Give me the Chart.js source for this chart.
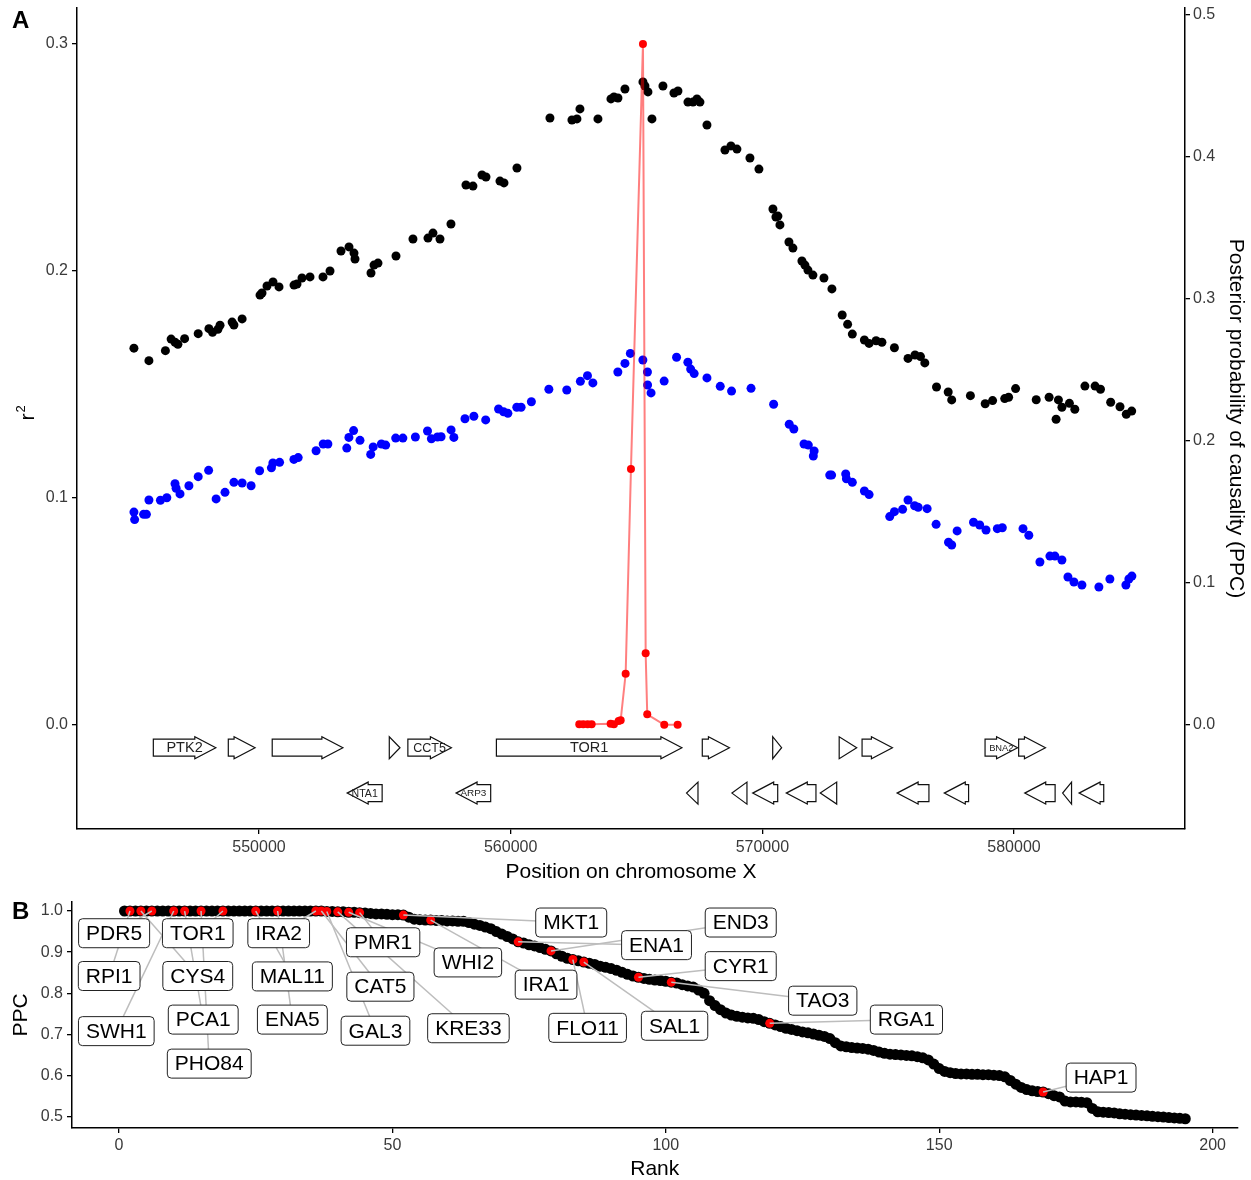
<!DOCTYPE html>
<html lang="en">
<head>
<meta charset="UTF-8">
<title>TOR1 locus</title>
<script src="https://cdn.jsdelivr.net/npm/chart.js@4.4.1/dist/chart.umd.min.js"></script>
<style>
  body { margin: 0; background: #fff; }
  #wrapA { position: absolute; left: 0; top: 0; }
  #wrapB { position: absolute; left: 0; top: 890px; }
</style>
</head>
<body>
<div id="wrapA"><canvas id="chartA" width="1251" height="890"></canvas></div>
<div id="wrapB"><canvas id="chartB" width="1251" height="290"></canvas></div>
<script>
// ---------- panel A data ----------
const blackPos = [545030, 545626, 546281, 546508, 546663, 546778, 547044, 547584, 548010, 548153, 548367, 548451, 548931, 549003, 549329,
  550040, 550119, 550318, 550556, 550795, 551391, 551510, 551708, 552026, 552543, 552821, 553258, 553576, 553774, 553814, 554450, 554569, 554728, 555443, 556118,
  556714, 556913, 557191, 557628, 558224, 558502, 558860, 559019, 559575, 559734, 560250, 561561, 562435, 562634, 562753, 563468, 563985, 564104, 564263, 564541,
  565256, 565336, 565455, 565614, 566051, 566488, 566647, 567044, 567243, 567402, 567521, 567800, 568515, 568753, 568991, 569508, 569865, 570421, 570540, 570620,
  570699, 571057, 571216, 571573, 571693, 571812, 572011, 572448, 572765,
  573174, 573389, 573576, 574056, 574243, 574521, 574752, 575248, 575789, 576067, 576285, 576456, 576921, 577386, 577525, 578268, 578856, 579150, 579631, 579786,
  580064, 580883, 581395, 581673, 581765, 581904, 582202, 582417, 582818, 583222, 583437, 583842, 584212, 584462, 584677];
const blackR2 = [0.1660, 0.1605, 0.1649, 0.1700, 0.1686, 0.1677, 0.1702, 0.1724, 0.1746, 0.1730, 0.1743, 0.1761, 0.1775, 0.1762, 0.1789,
  0.1894, 0.1903, 0.1934, 0.1952, 0.1930, 0.1938, 0.1943, 0.1969, 0.1974, 0.1974, 0.2000, 0.2088, 0.2106, 0.2079, 0.2053, 0.1991, 0.2026, 0.2035, 0.2066, 0.2141,
  0.2145, 0.2167, 0.2141, 0.2207, 0.2379, 0.2374, 0.2423, 0.2414, 0.2396, 0.2388, 0.2454, 0.2674, 0.2665, 0.2670, 0.2714, 0.2670, 0.2758, 0.2767, 0.2762, 0.2802,
  0.2833, 0.2815, 0.2789, 0.2670, 0.2815, 0.2784, 0.2793, 0.2744, 0.2744, 0.2758, 0.2744, 0.2643, 0.2533, 0.2551, 0.2537, 0.2498, 0.2449, 0.2273, 0.2238, 0.2242,
  0.2203, 0.2128, 0.2101, 0.2044, 0.2026, 0.2004, 0.1982, 0.1969, 0.1921,
  0.1806, 0.1765, 0.1722, 0.1696, 0.1681, 0.1693, 0.1686, 0.1662, 0.1615, 0.1630, 0.1623, 0.1595, 0.1489, 0.1467, 0.1432, 0.1451, 0.1415, 0.1429, 0.1438, 0.1444,
  0.1482, 0.1433, 0.1444, 0.1347, 0.1432, 0.1400, 0.1417, 0.1391, 0.1493, 0.1493, 0.1479, 0.1422, 0.1402, 0.1369, 0.1383];

const bluePos = [545030, 545058, 545415, 545526, 545626, 546083, 546337, 546663, 546706, 546861, 547215, 547584, 547998, 548296, 548649, 549003, 549329, 549686,
  550024, 550493, 550552, 550818, 551387, 551557, 552268, 552551, 552737, 553488, 553572, 553759, 554013, 554438, 554537, 554863, 555034, 555431, 555717,
  556214, 556695, 556850, 557092, 557235, 557632, 557743, 558184, 558538, 559007, 559519, 559718, 559889, 560243, 560414, 560823, 561518, 562229, 562770,
  563052, 563266, 564259, 564541, 564756, 565253, 565435, 565440, 565578,
  566099, 566592, 567041, 567152, 567291, 567800, 568328, 568777, 569551, 570449, 571069, 571252, 571657, 571828, 572026, 572058, 572678, 572753, 573313,
  573341, 573576, 574056, 574243, 575062, 575248, 575574, 575789, 576051, 576194, 576548, 576905, 577398, 577525, 577740, 578391, 578637, 578888, 579337,
  579536, 580358, 580589, 581030, 581427, 581626, 581904, 582143, 582381, 582699, 583374, 583811, 584447, 584566, 584685];
const blueR2 = [0.0938, 0.0905, 0.0928, 0.0928, 0.0991, 0.0990, 0.1001, 0.1063, 0.1043, 0.1018, 0.1054, 0.1094, 0.1122, 0.0996, 0.1025, 0.1069, 0.1066, 0.1054,
  0.1120, 0.1133, 0.1154, 0.1157, 0.1170, 0.1178, 0.1208, 0.1238, 0.1238, 0.1220, 0.1267, 0.1297, 0.1254, 0.1192, 0.1225, 0.1238, 0.1233, 0.1264, 0.1264,
  0.1269, 0.1295, 0.1261, 0.1269, 0.1270, 0.1300, 0.1267, 0.1349, 0.1360, 0.1344, 0.1392, 0.1380, 0.1373, 0.1400, 0.1400, 0.1424, 0.1479, 0.1476, 0.1514,
  0.1539, 0.1507, 0.1555, 0.1593, 0.1637, 0.1608, 0.1555, 0.1498, 0.1463,
  0.1515, 0.1620, 0.1598, 0.1568, 0.1548, 0.1529, 0.1492, 0.1471, 0.1483, 0.1413, 0.1325, 0.1304, 0.1238, 0.1233, 0.1185, 0.1207, 0.1101, 0.1101, 0.1106,
  0.1085, 0.1069, 0.1031, 0.1015, 0.0918, 0.0940, 0.0950, 0.0991, 0.0966, 0.0959, 0.0953, 0.0884, 0.0805, 0.0793, 0.0855, 0.0893, 0.0881, 0.0859, 0.0865,
  0.0869, 0.0865, 0.0836, 0.0718, 0.0744, 0.0744, 0.0727, 0.0652, 0.0630, 0.0617, 0.0608, 0.0643, 0.0617, 0.0643, 0.0656];

const ppcPos = [562726, 562885, 563059, 563218, 563973, 564104, 564291, 564371, 564569, 564780, 565257, 565364, 565427, 566103, 566635];
const ppcVal = [0.0005, 0.0005, 0.0005, 0.0005, 0.0009, 0.0005, 0.0028, 0.0033, 0.0361, 0.1803, 0.4796, 0.0505, 0.0075, 0.0001, 0.0001];

// genes: left/right coordinate, strand, label
const geneName   = ['PTK2', '', '', '', 'CCT5', 'TOR1', '', '', '', '', 'BNA2', '',
                    'NTA1', 'ARP3', '', '', '', '', '', '', '', '', '', ''];
const geneLeft   = [545801, 548780, 550525, 555177, 555915, 559433, 567614, 570412, 573054, 573963, 578850, 580185,
                    553503, 557830, 566989, 568793, 569616, 570952, 572301, 575355, 577230, 580426, 581932, 582586];
const geneRight  = [548284, 549844, 553333, 555603, 557645, 566804, 568693, 570767, 573750, 575170, 580142, 581250,
                    554893, 559206, 567443, 569389, 570611, 572131, 572955, 576620, 578196, 581634, 582287, 583566];
const geneStrand = [1, 1, 1, 1, 1, 1, 1, 1, 1, 1, 1, 1,
                    -1, -1, -1, -1, -1, -1, -1, -1, -1, -1, -1, -1];
const geneRowR2 = { '1': -0.010, '-1': -0.030 };

const posTicks = [550000, 560000, 570000, 580000];
const r2Ticks = [0, 0.1, 0.2, 0.3];
const ppcTicksA = [0, 0.1, 0.2, 0.3, 0.4, 0.5];

// ---------- panel B data ----------
const ppcRanked = [
  1.000, 1.000, 1.000, 1.000, 1.000, 1.000, 1.000, 1.000, 1.000, 1.000,
  1.000, 1.000, 1.000, 1.000, 1.000, 1.000, 1.000, 1.000, 1.000, 1.000,
  1.000, 1.000, 1.000, 1.000, 1.000, 1.000, 1.000, 1.000, 1.000, 1.000,
  1.000, 1.000, 1.000, 1.000, 1.000, 1.000, 1.000, 0.999, 0.999, 0.998,
  0.998, 0.997, 0.997, 0.996, 0.995, 0.994, 0.993, 0.993, 0.992, 0.991,
  0.991, 0.990, 0.985, 0.980, 0.979, 0.978, 0.978, 0.977, 0.977, 0.976,
  0.976, 0.975, 0.975, 0.972, 0.968, 0.965, 0.961, 0.957, 0.950, 0.944,
  0.938, 0.932, 0.925, 0.922, 0.918, 0.915, 0.911, 0.907, 0.903, 0.896,
  0.890, 0.885, 0.882, 0.879, 0.876, 0.873, 0.870, 0.866, 0.863, 0.860,
  0.856, 0.851, 0.846, 0.842, 0.839, 0.836, 0.834, 0.832, 0.831, 0.829,
  0.827, 0.825, 0.821, 0.818, 0.815, 0.808, 0.800, 0.782, 0.770, 0.760,
  0.752, 0.747, 0.744, 0.742, 0.740, 0.739, 0.736, 0.731, 0.727, 0.723,
  0.719, 0.715, 0.712, 0.709, 0.706, 0.704, 0.701, 0.698, 0.695, 0.690,
  0.680, 0.672, 0.670, 0.668, 0.667, 0.666, 0.664, 0.661, 0.657, 0.654,
  0.652, 0.651, 0.650, 0.649, 0.648, 0.646, 0.643, 0.638, 0.628, 0.617,
  0.610, 0.607, 0.605, 0.604, 0.604, 0.603, 0.603, 0.602, 0.602, 0.601,
  0.600, 0.597, 0.588, 0.579, 0.571, 0.566, 0.563, 0.561, 0.560, 0.556,
  0.551, 0.548, 0.538, 0.536, 0.536, 0.535, 0.534, 0.520, 0.512, 0.511,
  0.510, 0.509, 0.507, 0.506, 0.505, 0.504, 0.503, 0.502, 0.501, 0.500,
  0.499, 0.498, 0.497, 0.496, 0.495];

const labelGene = ['PDR5', 'RPI1', 'SWH1', 'TOR1', 'CYS4', 'PCA1', 'PHO84', 'IRA2', 'MAL11', 'ENA5', 'PMR1', 'CAT5', 'GAL3',
                   'WHI2', 'KRE33', 'MKT1', 'ENA1', 'END3', 'IRA1', 'FLO11', 'CYR1', 'SAL1', 'TAO3', 'RGA1', 'HAP1'];
const labelRank = [6, 2, 10, 19, 4, 12, 15, 36, 25, 29, 44, 37, 38, 42, 40, 52, 73, 79, 57, 83, 95, 85, 101, 119, 169];
// where each label box sits (rank, PPC units)
const labelX = [-0.9, -1.8, -0.5, 14.4, 14.4, 15.4, 16.5, 29.2, 31.7, 31.7, 48.3, 47.8, 46.9, 63.8, 63.9, 82.7, 98.3, 113.7,
                78.1, 85.7, 113.7, 101.6, 128.7, 144.0, 179.6];
const labelY = [0.946, 0.842, 0.708, 0.946, 0.842, 0.736, 0.629, 0.946, 0.841, 0.736, 0.924, 0.816, 0.709, 0.875, 0.715, 0.972,
                0.917, 0.972, 0.821, 0.716, 0.866, 0.721, 0.782, 0.736, 0.595];

const rankTicks = [0, 50, 100, 150, 200];
const ppcTicksB = [0.5, 0.6, 0.7, 0.8, 0.9, 1.0];

// ---------- shared look ----------
const FONT = '"Liberation Sans", Arial, Helvetica, sans-serif';
Chart.defaults.font.family = FONT;
const TICK_COL = '#3a3a3a';

function axis(extra) {
  return Object.assign({
    type: 'linear',
    grid: { display: true, drawOnChartArea: false, drawTicks: true, tickLength: 5, color: '#000', lineWidth: 1.3 },
    border: { display: true, color: '#000', width: 1.5 },
    ticks: { color: TICK_COL, font: { size: 16 }, padding: 3, autoSkip: false, maxRotation: 0 }
  }, extra);
}
function fixTicks(vals) {
  return s => { s.ticks = vals.map(v => ({ value: v })); };
}
// fixed axis box size, no extra room for overhanging labels
function fixSize(w, h) {
  return s => {
    if (w !== null) s.width = w;
    if (h !== null) s.height = h;
    s.paddingTop = 0; s.paddingBottom = 0; s.paddingLeft = 0; s.paddingRight = 0;
  };
}

// ---------- panel A ----------
const genePlugin = {
  id: 'genes',
  beforeDatasetsDraw(chart) {
    const ctx = chart.ctx, xs = chart.scales.x, ys = chart.scales.y;
    const HEAD = 21, HEAD_H = 11, BODY = 8.5;
    ctx.save();
    ctx.lineWidth = 1.2;
    ctx.strokeStyle = '#111';
    geneName.forEach((name, i) => {
      const a = xs.getPixelForValue(geneLeft[i]);
      const b = xs.getPixelForValue(geneRight[i]);
      const y = ys.getPixelForValue(geneRowR2[String(geneStrand[i])]);
      const dir = geneStrand[i];
      const head = Math.min(HEAD, b - a);
      const tail = dir > 0 ? a : b, tip = dir > 0 ? b : a;
      const neck = tip - dir * head;
      ctx.beginPath();
      ctx.moveTo(tail, y - BODY);
      ctx.lineTo(neck, y - BODY);
      ctx.lineTo(neck, y - HEAD_H);
      ctx.lineTo(tip, y);
      ctx.lineTo(neck, y + HEAD_H);
      ctx.lineTo(neck, y + BODY);
      ctx.lineTo(tail, y + BODY);
      ctx.closePath();
      ctx.fillStyle = '#fff';
      ctx.fill();
      ctx.stroke();
      if (name) {
        let size = 14.5;
        ctx.font = size + 'px ' + FONT;
        const w = ctx.measureText(name).width;
        if (w > 0.75 * (b - a)) size = size * 0.75 * (b - a) / w;
        ctx.font = size + 'px ' + FONT;
        ctx.fillStyle = '#222';
        ctx.textAlign = 'center';
        ctx.textBaseline = 'middle';
        ctx.fillText(name, (a + b) / 2, y + 0.5);
      }
    });
    ctx.restore();
  }
};

const titlesA = {
  id: 'titlesA',
  afterDraw(chart) {
    const ctx = chart.ctx, ca = chart.chartArea;
    ctx.save();
    ctx.fillStyle = '#000';
    ctx.textAlign = 'center';
    ctx.textBaseline = 'middle';
    ctx.font = '21px ' + FONT;
    ctx.fillText('Position on chromosome X', (ca.left + ca.right) / 2, 872);
    // r^2
    ctx.save();
    ctx.translate(28, 414);
    ctx.rotate(-Math.PI / 2);
    ctx.textAlign = 'left';
    ctx.font = '21px ' + FONT;
    const wr = ctx.measureText('r').width;
    ctx.fillText('r', -wr / 2 - 3, 0);
    ctx.font = '13px ' + FONT;
    ctx.fillText('2', wr / 2 - 2, -7);
    ctx.restore();
    // right title
    ctx.save();
    ctx.translate(1236, (ca.top + ca.bottom) / 2);
    ctx.rotate(Math.PI / 2);
    ctx.textAlign = 'center';
    ctx.font = '21px ' + FONT;
    ctx.fillText('Posterior probability of causality (PPC)', 0, 0);
    ctx.restore();
    ctx.font = 'bold 24px ' + FONT;
    ctx.textAlign = 'left';
    ctx.textBaseline = 'alphabetic';
    ctx.fillText('A', 12, 28);
    ctx.restore();
  }
};

new Chart(document.getElementById('chartA').getContext('2d'), {
  type: 'scatter',
  data: {
    datasets: [
      {
        label: 'PPC',
        yAxisID: 'y2',
        data: ppcPos.map((p, i) => ({ x: p, y: ppcVal[i] })),
        showLine: true,
        borderColor: 'rgba(255, 0, 0, 0.5)',
        borderWidth: 2,
        pointRadius: 4,
        pointBackgroundColor: '#ff0000',
        pointBorderWidth: 0,
        clip: false
      },
      {
        label: 'r2 black',
        yAxisID: 'y',
        data: blackPos.map((p, i) => ({ x: p, y: blackR2[i] })),
        pointRadius: 4.5,
        pointBackgroundColor: '#000',
        pointBorderWidth: 0,
        clip: false
      },
      {
        label: 'r2 blue',
        yAxisID: 'y',
        data: bluePos.map((p, i) => ({ x: p, y: blueR2[i] })),
        pointRadius: 4.5,
        pointBackgroundColor: '#0000ff',
        pointBorderWidth: 0,
        clip: false
      }
    ]
  },
  options: {
    responsive: false,
    animation: false,
    events: [],
    layout: { padding: { top: 8, left: 0, right: 0, bottom: 0 } },
    plugins: { legend: { display: false }, tooltip: { enabled: false } },
    scales: {
      x: axis({
        position: 'bottom', min: 542768, max: 586795,
        afterBuildTicks: fixTicks(posTicks),
        afterFit: fixSize(null, 61),
        ticks: { color: TICK_COL, font: { size: 16 }, padding: 4, autoSkip: false, maxRotation: 0, callback: v => String(v) }
      }),
      y: axis({
        position: 'left', min: -0.04581, max: 0.31586,
        afterBuildTicks: fixTicks(r2Ticks),
        afterFit: fixSize(77, null),
        ticks: { color: TICK_COL, font: { size: 16 }, padding: 4, autoSkip: false, callback: v => v.toFixed(1) }
      }),
      y2: axis({
        position: 'right', min: -0.07324, max: 0.50493,
        afterBuildTicks: fixTicks(ppcTicksA),
        afterFit: fixSize(66, null),
        ticks: { color: TICK_COL, font: { size: 16 }, padding: 3, autoSkip: false, callback: v => v.toFixed(1) }
      })
    }
  },
  plugins: [genePlugin, titlesA]
});

// ---------- panel B ----------
const repelLabels = {
  id: 'repelLabels',
  afterDatasetsDraw(chart) {
    const ctx = chart.ctx, xs = chart.scales.x, ys = chart.scales.y;
    ctx.save();
    ctx.strokeStyle = '#bdbdbd';
    ctx.lineWidth = 1.5;
    labelGene.forEach((g, i) => {
      const r = labelRank[i];
      ctx.beginPath();
      ctx.moveTo(xs.getPixelForValue(r), ys.getPixelForValue(ppcRanked[r - 1]));
      ctx.lineTo(xs.getPixelForValue(labelX[i]), ys.getPixelForValue(labelY[i]));
      ctx.stroke();
    });
    ctx.font = '21px ' + FONT;
    ctx.textAlign = 'center';
    ctx.textBaseline = 'middle';
    labelGene.forEach((g, i) => {
      const cx = xs.getPixelForValue(labelX[i]), cy = ys.getPixelForValue(labelY[i]);
      const w = ctx.measureText(g).width + 15, h = 29;
      ctx.beginPath();
      ctx.roundRect(cx - w / 2, cy - h / 2, w, h, 4);
      ctx.fillStyle = '#fff';
      ctx.fill();
      ctx.strokeStyle = '#222';
      ctx.lineWidth = 1;
      ctx.stroke();
      ctx.fillStyle = '#000';
      ctx.fillText(g, cx, cy + 1);
    });
    ctx.restore();
  }
};

const titlesB = {
  id: 'titlesB',
  afterDraw(chart) {
    const ctx = chart.ctx, ca = chart.chartArea;
    ctx.save();
    ctx.fillStyle = '#000';
    ctx.textAlign = 'center';
    ctx.textBaseline = 'middle';
    ctx.font = '21px ' + FONT;
    ctx.fillText('Rank', (ca.left + ca.right) / 2, 279);
    ctx.save();
    ctx.translate(21, (ca.top + ca.bottom) / 2);
    ctx.rotate(-Math.PI / 2);
    ctx.fillText('PPC', 0, 0);
    ctx.restore();
    ctx.font = 'bold 24px ' + FONT;
    ctx.textAlign = 'left';
    ctx.textBaseline = 'alphabetic';
    ctx.fillText('B', 12, 29);
    ctx.restore();
  }
};

new Chart(document.getElementById('chartB').getContext('2d'), {
  type: 'scatter',
  data: {
    datasets: [
      {
        label: 'labelled',
        data: labelRank.map(r => ({ x: r, y: ppcRanked[r - 1] })),
        pointRadius: 4.5,
        pointBackgroundColor: '#ff0000',
        pointBorderWidth: 0,
        clip: false
      },
      {
        label: 'all',
        data: ppcRanked.map((v, i) => ({ x: i + 1, y: v })),
        pointRadius: 5.5,
        pointBackgroundColor: '#000',
        pointBorderWidth: 0,
        clip: false
      }
    ]
  },
  options: {
    responsive: false,
    animation: false,
    events: [],
    layout: { padding: { top: 12, left: 0, right: 13.5, bottom: 0 } },
    plugins: { legend: { display: false }, tooltip: { enabled: false } },
    scales: {
      x: axis({
        position: 'bottom', min: -8.6, max: 204.55,
        afterBuildTicks: fixTicks(rankTicks),
        afterFit: fixSize(null, 52)
      }),
      y: axis({
        position: 'left', min: 0.4725, max: 1.0219,
        afterBuildTicks: fixTicks(ppcTicksB),
        afterFit: fixSize(72, null),
        ticks: { color: TICK_COL, font: { size: 16 }, padding: 4, autoSkip: false, callback: v => v.toFixed(1) }
      })
    }
  },
  plugins: [repelLabels, titlesB]
});
</script>
</body>
</html>
